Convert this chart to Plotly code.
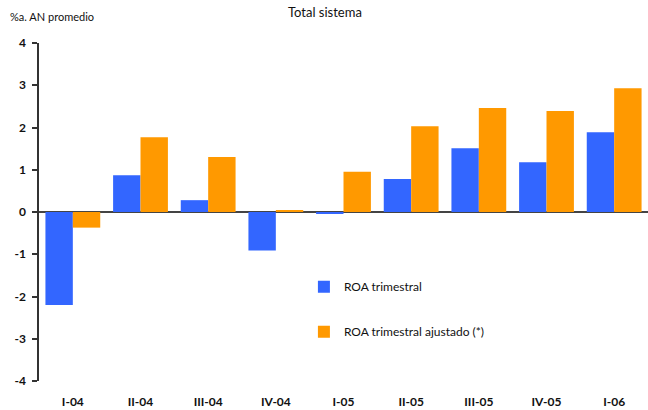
import plotly.graph_objects as go

# Quarters and ROA series (% annualised, average total assets)
quarters = ["I-04", "II-04", "III-04", "IV-04", "I-05", "II-05", "III-05", "IV-05", "I-06"]
roa_trimestral = [-2.2, 0.87, 0.28, -0.91, -0.03, 0.78, 1.51, 1.18, 1.89]
roa_ajustado = [-0.37, 1.77, 1.3, 0.03, 0.95, 2.03, 2.46, 2.39, 2.93]
y_ticks = [-4, -3, -2, -1, 0, 1, 2, 3, 4]
y_tick_text = ["-4", "-3", "-2", "-1", "0", "1", "2", "3", "4"]

FONT = "Lato, 'DejaVu Sans', sans-serif"

fig = go.Figure()
fig.add_trace(go.Bar(x=quarters, y=roa_trimestral, name="ROA trimestral",
                     marker=dict(color="#3366FF", line=dict(width=0)),
                     legendgroup="a"))
fig.add_trace(go.Bar(x=quarters, y=roa_ajustado, name="ROA trimestral ajustado (*)",
                     marker=dict(color="#FF9900", line=dict(width=0)),
                     legendgroup="b"))

fig.update_layout(
    width=648, height=410,
    margin=dict(l=39, r=0, t=43, b=29),
    paper_bgcolor="white", plot_bgcolor="white",
    font=dict(family=FONT, color="#111", size=12),
    barmode="group", bargap=0.19, bargroupgap=0,
    showlegend=True,
    legend=dict(x=0.435, y=0.322, xanchor="left", yanchor="top",
                bgcolor="rgba(0,0,0,0)", tracegroupgap=26,
                font=dict(size=12, family=FONT, color="#111"),
                itemclick=False),
    annotations=[
        dict(text="Total sistema", x=0.5, y=(410 - 2 - 29) / 338,
             xref="paper", yref="paper", xanchor="center", yanchor="top",
             showarrow=False, xshift=-19,
             font=dict(size=13, family=FONT, color="#111")),
        dict(text="%a. AN promedio", x=-31 / 609, y=(410 - 8 - 29) / 338,
             xref="paper", yref="paper", xanchor="left", yanchor="top",
             showarrow=False, font=dict(size=11, family=FONT, color="#111")),
    ],
)

fig.update_xaxes(
    type="category", showgrid=False, showline=False, ticks="",
    zeroline=False,
    tickfont=dict(size=12, family=FONT, color="#111", weight="bold"),
    ticklabelstandoff=12,
)
fig.update_yaxes(
    range=[-4, 4], tickvals=y_ticks, ticktext=y_tick_text, showgrid=False,
    showline=True, linecolor="#333", linewidth=1.5,
    ticks="outside", ticklen=5, tickcolor="#333", tickwidth=1.5,
    zeroline=True, zerolinecolor="#444", zerolinewidth=2,
    tickfont=dict(size=12, family=FONT, color="#111", weight="bold"),
    ticklabelstandoff=4,
)

fig.write_html("out.html")
